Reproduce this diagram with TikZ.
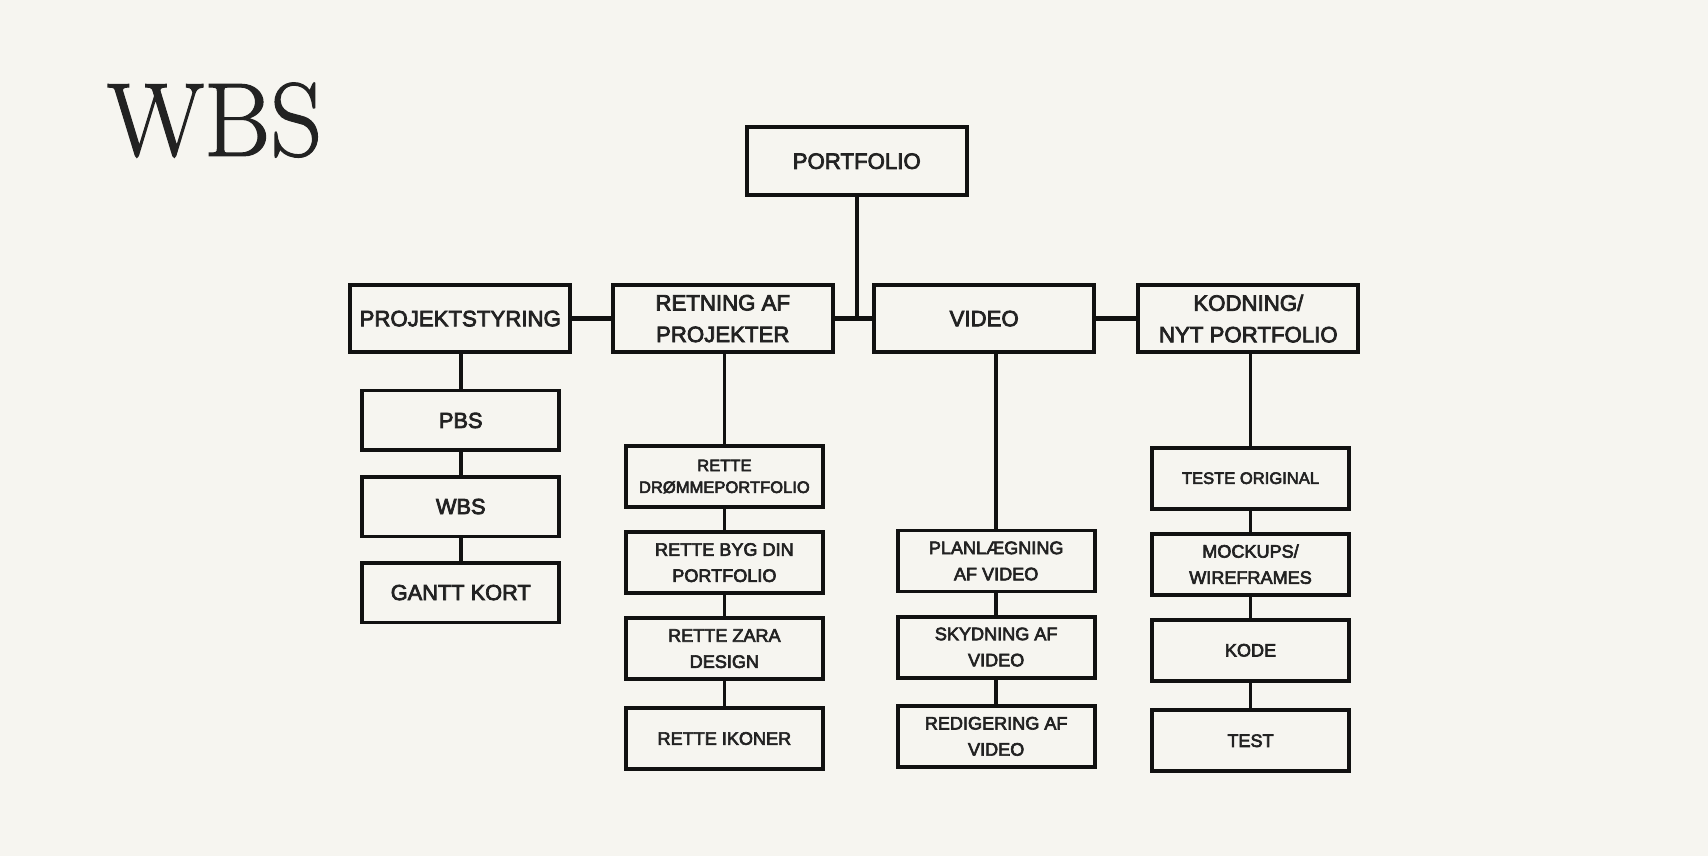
\documentclass[tikz,border=0pt]{standalone}
\usepackage{fontspec}
\usepackage{tikz}
\usetikzlibrary{positioning}
\newfontfamily\boxfont{Liberation Sans}[FakeBold=3.5]
\newfontfamily\titlefont{Latin Modern Roman}[RawFeature={embolden=1.2}]
\definecolor{WbsPaper}{HTML}{F6F5F0}
\definecolor{WbsInk}{HTML}{222222}
\definecolor{WbsLine}{HTML}{111111}

\begin{document}
\begin{tikzpicture}[x=0.5pt,y=-0.5pt,
    box/.style={draw=WbsLine,line width=1.8pt,fill=WbsPaper,text=WbsInk,
      align=center,inner sep=0pt},
    bigbox/.style={box,minimum width=101pt,minimum height=31pt,
      font=\boxfont\fontsize{10.2}{14.5}\selectfont},
    midbox/.style={box,minimum width=90.5pt,minimum height=27.5pt,
      font=\boxfont\fontsize{10}{13}\selectfont},
    smallbox/.style={box,minimum width=90.5pt,minimum height=28pt,
      font=\boxfont\fontsize{8.3}{12}\selectfont},
    tinybox/.style={box,minimum width=90.5pt,minimum height=28pt,
      font=\boxfont\fontsize{7.6}{10}\selectfont},
    link/.style={draw=WbsLine,line width=1.7pt},
    hlink/.style={draw=WbsLine,line width=2pt}]
  \fill[WbsPaper] (0,0) rectangle (1568,786);
  \useasboundingbox (0,0) rectangle (1568,786);

  % title
  \node[anchor=base west,inner sep=0pt,text=WbsInk] (title) at (98,143)
    {\scalebox{0.97}[1]{\titlefont\fontsize{48}{48}\selectfont WBS}};

  % top level
  \node[bigbox] (port) at (786.5,148) {PORTFOLIO};

  % second level
  \node[bigbox] (proj) at (422.5,292.5) {PROJEKTSTYRING};
  \node[bigbox] (retn) at (663.5,292.5) {RETNING AF\\PROJEKTER};
  \node[bigbox] (video) at (903.5,292.5) {VIDEO};
  \node[bigbox] (kod) at (1146,292.5) {KODNING/\\NYT PORTFOLIO};

  % projektstyring
  \node[midbox] (pbs) at (423,386) {PBS};
  \node[midbox] (wbs) at (423,465) {WBS};
  \node[midbox] (gantt) at (423,544) {GANTT KORT};

  % retning af projekter
  \node[tinybox] (droem) at (665,437.5) {RETTE\\DRØMMEPORTFOLIO};
  \node[smallbox] (byg) at (665,516.5) {RETTE BYG DIN\\PORTFOLIO};
  \node[smallbox] (zara) at (665,595.5) {RETTE ZARA\\DESIGN};
  \node[smallbox] (ikon) at (665,678) {RETTE IKONER};

  % video
  \node[smallbox] (plan) at (914.5,515) {PLANLÆGNING\\AF VIDEO};
  \node[smallbox] (skyd) at (914.5,594) {SKYDNING AF\\VIDEO};
  \node[smallbox] (redig) at (914.5,676) {REDIGERING AF\\VIDEO};

  % kodning
  \node[tinybox] (teste) at (1148,439) {TESTE ORIGINAL};
  \node[smallbox] (mock) at (1148,518) {MOCKUPS/\\WIREFRAMES};
  \node[smallbox] (kode) at (1148,597) {KODE};
  \node[smallbox] (test) at (1148,680) {TEST};

  % connectors
  \draw[link] (port.south) -- (port.south |- retn.east);
  \draw[hlink] (proj.east) -- (retn.west);
  \draw[hlink] (retn.east) -- (video.west);
  \draw[hlink] (video.east) -- (kod.west);

  \draw[link] (pbs.north) -- (pbs.north |- proj.south);
  \draw[link] (droem.north) -- (droem.north |- retn.south);
  \draw[link] (plan.north) -- (plan.north |- video.south);
  \draw[link] (teste.north) -- (teste.north |- kod.south);

  \draw[link] (pbs) -- (wbs) -- (gantt);
  \draw[link] (droem) -- (byg) -- (zara) -- (ikon);
  \draw[link] (plan) -- (skyd) -- (redig);
  \draw[link] (teste) -- (mock) -- (kode) -- (test);
\end{tikzpicture}
\end{document}
